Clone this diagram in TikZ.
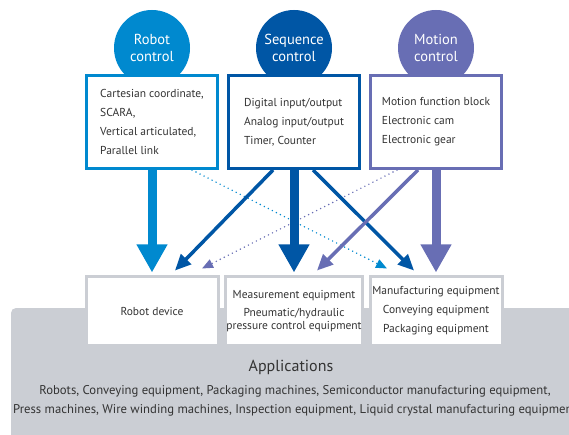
\documentclass[tikz,border=0pt]{standalone}
\usepackage{fontspec}
\setmainfont{PT Sans}
\usetikzlibrary{arrows.meta}
\definecolor{robotblue}{HTML}{0089CF}
\definecolor{seqblue}{HTML}{0056A5}
\definecolor{motviolet}{HTML}{686EB4}
\definecolor{appgray}{HTML}{CBCED4}
\definecolor{txtgray}{HTML}{333333}

\begin{document}
\begin{tikzpicture}[x=1pt,y=-1pt, every node/.style={font=\fontsize{11.5}{19}\selectfont, text=txtgray},
  ctrl/.style={circle, fill=#1, minimum size=76pt, inner sep=0pt, align=center, text=white,
    font=\fontsize{14.5}{17}\selectfont},
  funcbox/.style={draw=#1, line width=3pt, fill=white, minimum width=131pt, minimum height=93pt, align=left},
  appbox/.style={draw=appgray, line width=3pt, fill=white, minimum width=132pt, minimum height=69pt,
    align=center, inner sep=1pt},
  bigarrow/.style={draw=#1, line width=9pt, -{Triangle[length=28pt,width=29pt]}},
  thinarrow/.style={draw=#1, line width=3.5pt, -{Triangle[length=16pt,width=14pt]}},
  dotarrow/.style={draw=#1, line width=1.6pt, line cap=round, dash pattern=on 0pt off 4.5pt,
    -{Triangle[length=11pt,width=9pt]}}]
  \clip (0,0) rectangle (569,435);
  % control circles
  \node[ctrl=robotblue] (robotc) at (152,48) {Robot\\control};
  \node[ctrl=seqblue] (seqc) at (294,48) {Sequence\\control};
  \node[ctrl=motviolet] (motc) at (436,48) {Motion\\control};
  % function boxes
  \node[funcbox=robotblue] (robotbox) at (152,122) {Cartesian coordinate,\\SCARA,\\Vertical articulated,\\Parallel link};
  \node[funcbox=seqblue] (seqbox) at (294,122) {Digital input/output\\Analog input/output\\Timer, Counter};
  \node[funcbox=motviolet] (motbox) at (436,122) {Motion function block\\Electronic cam\\Electronic gear};
  % applications
  \fill[appgray, rounded corners=5pt] (11,308) rectangle (590,450);
  \node[appbox] (devbox) at (152,311) {Robot device};
  \node[appbox] (measbox) at (294,311) {Measurement equipment\\[-1pt]Pneumatic/hydraulic\\[-6pt]pressure control equipment};
  \node[appbox] (manbox) at (436,311) {Manufacturing equipment\\Conveying equipment\\Packaging equipment};
  \node[font=\fontsize{16}{19}\selectfont] (apptitle) at (291,367) {Applications};
  \node[align=center, font=\fontsize{12.7}{19}\selectfont] (applist) at (295,401)
    {Robots, Conveying equipment, Packaging machines, Semiconductor manufacturing equipment,\\
     Press machines, Wire winding machines, Inspection equipment, Liquid crystal manufacturing equipment};
  % connections
  \draw[dotarrow=robotblue] ([xshift=40pt]robotbox.south) -- ([xshift=-49pt,yshift=6.5pt]manbox.north);
  \draw[dotarrow=motviolet] ([xshift=-39pt]motbox.south) -- ([xshift=50pt,yshift=6.5pt]devbox.north);
  \draw[thinarrow=seqblue] ([xshift=-21pt]seqbox.south) -- ([xshift=23pt,yshift=4.5pt]devbox.north);
  \draw[thinarrow=seqblue] ([xshift=19pt]seqbox.south) -- ([xshift=-22pt,yshift=4.5pt]manbox.north);
  \draw[thinarrow=motviolet] ([xshift=-18pt]motbox.south) -- ([xshift=23pt,yshift=4.5pt]measbox.north);
  \foreach \col/\from/\to in {robotblue/robotbox/devbox, seqblue/seqbox/measbox, motviolet/motbox/manbox}
    \draw[bigarrow=\col] (\from.south) -- ([yshift=2.5pt]\to.north);
\end{tikzpicture}
\end{document}
